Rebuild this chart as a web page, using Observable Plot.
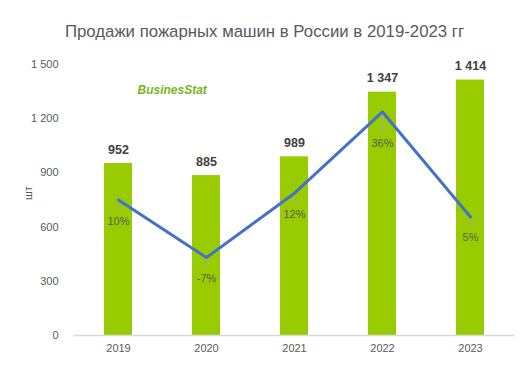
<!DOCTYPE html>
<html><head><meta charset="utf-8">
<script src="https://cdn.jsdelivr.net/npm/d3@7"></script>
<script src="https://cdn.jsdelivr.net/npm/@observablehq/plot@0.6"></script>
<style>
body{margin:0;background:#fff;font-family:"Liberation Sans",Arial,sans-serif;}
#title{height:50px;width:529px;text-align:center;font-size:16.8px;color:#595959;line-height:64px;}
</style></head>
<body>
<div id="title">Продажи пожарных машин в России в 2019-2023 гг</div>
<div id="chart"></div>
<script>
const years = ["2019","2020","2021","2022","2023"];
const sales = [952, 885, 989, 1347, 1414];
const growth = [10, -7, 12, 36, 5];
const yTicks = [0, 300, 600, 900, 1200, 1500];

// secondary (hidden) axis for growth: -30% .. 50% mapped onto 0 .. 1500
const sec = d3.scaleLinear().domain([-30, 50]).range([0, 1500]);
const fmt = d3.formatLocale({decimal: ",", thousands: " ", grouping: [3], currency: ["", ""]}).format(",d");

const data = years.map((y, i) => ({year: y, sales: sales[i], growth: growth[i], gy: sec(growth[i])}));
const peak = d => d.growth === d3.max(growth);

const chart = Plot.plot({
  width: 529, height: 325,
  marginLeft: 73, marginRight: 14, marginTop: 14, marginBottom: 40,
  style: {fontFamily: "Liberation Sans, Arial, sans-serif", fontSize: "11px", color: "#595959", background: "#fff"},
  x: {domain: years, paddingInner: 0.68, paddingOuter: 0.34, label: null, tickSize: 0, tickPadding: 9},
  y: {domain: [0, 1500], ticks: yTicks, tickFormat: fmt, label: null, tickSize: 0, tickPadding: 15},
  marks: [
    Plot.barY(data, {x: "year", y: "sales", fill: "#99cc00"}),
    Plot.ruleY([0], {stroke: "#d9d9d9", strokeWidth: 1.5}),
    Plot.text(data, {x: "year", y: "sales", text: d => fmt(d.sales), dy: -14, fontWeight: "bold", fontSize: 12.5, fill: "#404040"}),
    Plot.ruleX(data, {x: "year", y1: "gy", y2: d => d.gy - (peak(d) ? 120 : 55), stroke: "#a6a6a6", strokeWidth: 1}),
    Plot.line(data, {x: "year", y: "gy", stroke: "#4472c4", strokeWidth: 3}),
    Plot.text(data.filter(d => !peak(d)), {x: "year", y: "gy", text: d => d.growth + "%", dy: 21, fontSize: 11, fill: "#595959"}),
    Plot.text(data.filter(peak), {x: "year", y: "gy", text: d => d.growth + "%", dy: 32, fontSize: 11, fill: "#595959"}),
    Plot.text(["шт"], {frameAnchor: "left", dx: -45, rotate: -90, fontSize: 11, fill: "#595959"}),
    Plot.text(["BusinesStat"], {frameAnchor: "top-left", dx: 64, dy: 21, fontSize: 12, fontWeight: "bold", fontStyle: "italic", fill: "#7ab51d", textAnchor: "start"})
  ]
});
document.getElementById("chart").append(chart);
</script>
</body></html>
